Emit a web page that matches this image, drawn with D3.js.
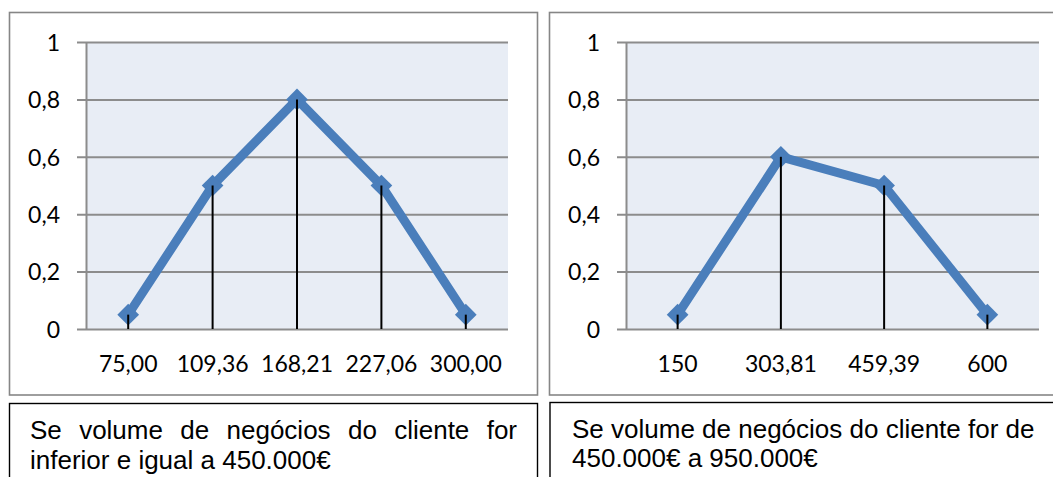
<!DOCTYPE html>
<html>
<head>
<meta charset="utf-8">
<script src="https://cdn.jsdelivr.net/npm/d3@7"></script>
<style>
  html, body { margin: 0; padding: 0; background: #ffffff; }
  svg { display: block; }
</style>
</head>
<body>
<svg id="chart" width="1053" height="477"></svg>
<script>
// Membership functions: business volume thresholds
const leftCategories = ["75,00", "109,36", "168,21", "227,06", "300,00"];
const leftValues = [0.05, 0.5, 0.8, 0.5, 0.05];

const rightCategories = ["150", "303,81", "459,39", "600"];
const rightValues = [0.05, 0.6, 0.5, 0.05];

const yTickValues = [0, 0.2, 0.4, 0.6, 0.8, 1];
const yTickLabels = ["0", "0,2", "0,4", "0,6", "0,8", "1"];

const leftCaption = ["Se volume de negócios do cliente for", "inferior e igual a 450.000€"];
const rightCaption = ["Se volume de negócios do cliente for de", "450.000€ a 950.000€"];

const svg = d3.select("#chart");

const BLUE = "#4a7ebb";
const GRID = "#8c8c8c";
const PLOT_BG = "#e8edf5";

function drawChart(cfg) {
  const g = svg.append("g");

  // outer chart frame
  g.append("rect")
    .attr("x", cfg.box[0]).attr("y", cfg.box[1])
    .attr("width", cfg.box[2]).attr("height", cfg.box[3])
    .attr("fill", "#ffffff").attr("stroke", "#868686").attr("stroke-width", 1.6);

  const x = d3.scaleBand()
    .domain(cfg.categories)
    .range([cfg.plot.left, cfg.plot.right])
    .padding(0);
  const y = d3.scaleLinear()
    .domain([0, 1])
    .range([cfg.plot.bottom, cfg.plot.top]);

  // plot area background
  g.append("rect")
    .attr("x", cfg.plot.left).attr("y", y(1))
    .attr("width", cfg.plot.right - cfg.plot.left)
    .attr("height", y(0) - y(1))
    .attr("fill", PLOT_BG);

  // y axis with gridlines extending across the plot
  const yAxis = d3.axisLeft(y)
    .tickValues(yTickValues)
    .tickFormat((d, i) => yTickLabels[i])
    .tickSizeInner(-(cfg.plot.right - cfg.plot.left))
    .tickSizeOuter(0)
    .tickPadding(0);
  const ya = g.append("g")
    .attr("transform", `translate(${cfg.plot.left},0)`)
    .call(yAxis);
  ya.select(".domain")
    .attr("stroke", GRID).attr("stroke-width", 2)
    .attr("d", `M0.5,${y(1)}V${y(0)}`);
  ya.selectAll(".tick line")
    .attr("stroke", GRID).attr("stroke-width", 2)
    .attr("x1", -9);
  ya.selectAll(".tick text")
    .attr("x", cfg.yLabelRight - cfg.plot.left)
    .attr("dy", "0.36em")
    .attr("fill", "#000")
    .style("font-family", "Lato, 'Open Sans', sans-serif")
    .style("font-size", "23px");

  // x axis labels
  const xAxis = d3.axisBottom(x).tickSize(0).tickPadding(0);
  const xa = g.append("g")
    .attr("transform", `translate(0,${y(0)})`)
    .call(xAxis);
  xa.select(".domain").remove();
  xa.selectAll(".tick text")
    .attr("y", 43)
    .attr("dy", 0)
    .attr("fill", "#000")
    .style("font-family", "Lato, 'Open Sans', sans-serif")
    .style("font-size", "23px");

  const pts = cfg.categories.map((c, i) => ({
    cx: x(c) + x.bandwidth() / 2,
    cy: y(cfg.values[i])
  }));

  // series line
  g.append("path")
    .datum(pts)
    .attr("d", d3.line().x(d => d.cx).y(d => d.cy))
    .attr("fill", "none")
    .attr("stroke", BLUE)
    .attr("stroke-width", 9)
    .attr("stroke-linejoin", "round");

  // diamond markers
  const diamond = d3.symbol().type(d3.symbolDiamond2).size(300);
  g.selectAll(".marker")
    .data(pts)
    .join("path")
    .attr("class", "marker")
    .attr("transform", d => `translate(${d.cx},${d.cy})`)
    .attr("d", diamond)
    .attr("fill", BLUE);

  // drop lines from each point to the category axis
  g.selectAll(".drop")
    .data(pts)
    .join("line")
    .attr("class", "drop")
    .attr("x1", d => d.cx).attr("x2", d => d.cx)
    .attr("y1", d => d.cy).attr("y2", y(0))
    .attr("stroke", "#000").attr("stroke-width", 2);

  // caption box
  g.append("rect")
    .attr("x", cfg.caption.box[0]).attr("y", cfg.caption.box[1])
    .attr("width", cfg.caption.box[2]).attr("height", cfg.caption.box[3])
    .attr("fill", "#fff").attr("stroke", "#000").attr("stroke-width", 1.4);

  cfg.caption.lines.forEach((line, li) => {
    const baseline = cfg.caption.baselines[li];
    const fontStyle = sel => sel
      .style("font-family", "'Liberation Sans', Arial, sans-serif")
      .style("font-size", "26px")
      .attr("fill", "#000");
    if (cfg.caption.justifyWidth && li === 0) {
      // justified line: spread words evenly across the available width
      const words = line.split(" ");
      const tmp = words.map(w => fontStyle(g.append("text").text(w)));
      const widths = tmp.map(t => t.node().getComputedTextLength());
      tmp.forEach(t => t.remove());
      const total = d3.sum(widths);
      const gap = (cfg.caption.justifyWidth - total) / (words.length - 1);
      let cx = cfg.caption.x;
      words.forEach((w, wi) => {
        fontStyle(g.append("text"))
          .attr("x", cx).attr("y", baseline)
          .text(w);
        cx += widths[wi] + gap;
      });
    } else {
      fontStyle(g.append("text"))
        .attr("x", cfg.caption.x).attr("y", baseline)
        .text(line);
    }
  });
}

drawChart({
  box: [9.5, 12.5, 528, 382.5],
  plot: { left: 86, right: 508, top: 42, bottom: 329 },
  yLabelRight: 60,
  categories: leftCategories,
  values: leftValues,
  caption: {
    box: [9.5, 403.5, 528, 90],
    x: 30,
    baselines: [439, 469],
    lines: leftCaption,
    justifyWidth: 487
  }
});

drawChart({
  box: [549.5, 12.5, 520, 382.5],
  plot: { left: 626, right: 1039, top: 42, bottom: 329 },
  yLabelRight: 600,
  categories: rightCategories,
  values: rightValues,
  caption: {
    box: [550, 402.5, 520, 90],
    x: 572,
    baselines: [438, 467],
    lines: rightCaption,
    justifyWidth: null
  }
});
</script>
</body>
</html>
